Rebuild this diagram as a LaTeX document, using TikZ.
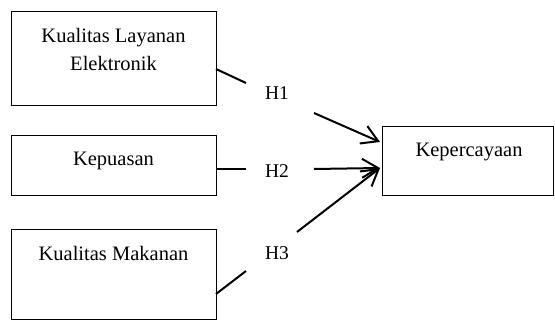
\documentclass[tikz,border=0pt]{standalone}
\usepackage{fontspec}
\setmainfont{Liberation Serif}
\usetikzlibrary{arrows.meta}
\begin{document}
\begin{tikzpicture}[x=1pt,y=-1pt,
  box/.style={draw, line width=1pt, inner sep=0pt},
  txt/.style={font=\fontsize{20.5}{28.3}\selectfont, inner sep=0pt, anchor=base, align=center},
  hyp/.style={font=\fontsize{19.5}{24}\selectfont, inner sep=0pt, anchor=base},
  conn/.style={line width=2pt},
  arr/.style={line width=2pt, -{Straight Barb[length=16pt,width=19pt,line width=2pt]}}]
\useasboundingbox (0,0) rectangle (555,320);
% boxes
\node[box, minimum width=205pt, minimum height=94pt] (b1) at (113.5,59) {};
\node[box, minimum width=205pt, minimum height=60pt] (b2) at (113.5,166) {};
\node[box, minimum width=205pt, minimum height=90pt] (b3) at (113.5,275) {};
\node[box, minimum width=171pt, minimum height=69pt] (k) at (467.5,161.5) {};
% texts
\node[txt] (t1) at (113.5,71) {Kualitas Layanan\\Elektronik};
\node[txt] (t2) at (113.5,165.7) {Kepuasan};
\node[txt] (t3) at (113.5,260.7) {Kualitas Makanan};
\node[txt] (t4) at (469,156.7) {Kepercayaan};
% hypothesis labels
\node[hyp] (h1) at (277,99.3) {H1};
\node[hyp] (h2) at (277,178) {H2};
\node[hyp] (h3) at (277,259.3) {H3};
% connector points
\coordinate (s1) at (216,69);  \coordinate (e1) at (246,83);
\coordinate (s2) at (216,169); \coordinate (e2) at (246,169);
\coordinate (s3) at (216,294); \coordinate (e3) at (246,271);
\coordinate (f1) at (314,113); \coordinate (a1) at (380,142);
\coordinate (f2) at (314,169); \coordinate (a2) at (380,168);
\coordinate (f3) at (297,232); \coordinate (a3) at (380,168);
\draw[conn] (s1) -- (e1);
\draw[conn] (s2) -- (e2);
\draw[conn] (s3) -- (e3);
\draw[arr] (f1) -- (a1);
\draw[arr] (f2) -- (a2);
\draw[arr] (f3) -- (a3);
\end{tikzpicture}
\end{document}
